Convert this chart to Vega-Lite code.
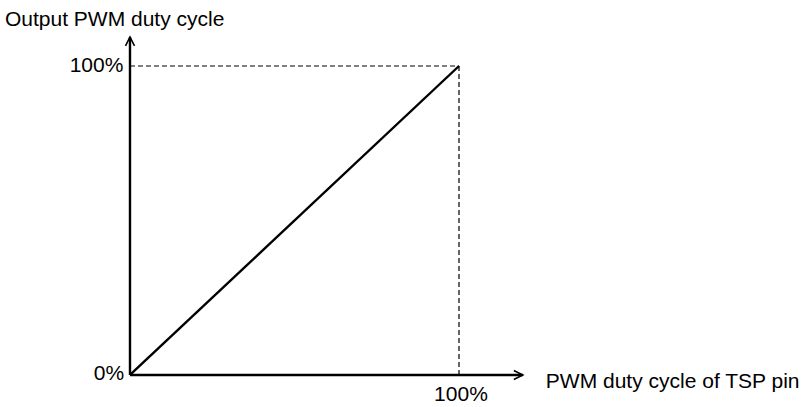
{
  "$schema": "https://vega.github.io/schema/vega-lite/v6.json",
  "width": 806,
  "height": 407,
  "autosize": {"type": "none"},
  "padding": 0,
  "background": "white",
  "config": {"view": {"stroke": null}},
  "datasets": {
    "diag": [{"x": 0, "y": 0}, {"x": 100, "y": 100}],
    "dashes": [
      {"x": 0, "y": 100, "x2": 100, "y2": 100},
      {"x": 100, "y": 100, "x2": 100, "y2": 0}
    ],
    "axes": [
      {"x": 0, "y": 0, "x2": 119.4, "y2": 0},
      {"x": 0, "y": 0, "x2": 0, "y2": 109.4}
    ],
    "heads": [
      {"dir": "right", "x": 119.4, "y": 0},
      {"dir": "up", "x": 0, "y": 109.4}
    ],
    "labels": [
      {"pos": "left", "label": "Output PWM duty cycle", "x": -38.0, "y": 115.0},
      {"pos": "left", "label": "PWM duty cycle of TSP pin", "x": 126.4, "y": -2.4},
      {"pos": "right", "label": "100%", "x": -2.0, "y": 100},
      {"pos": "right", "label": "0%", "x": -1.8, "y": 0.4},
      {"pos": "center", "label": "100%", "x": 100.6, "y": -6.5}
    ]
  },
  "encoding": {
    "x": {"field": "x", "type": "quantitative", "scale": {"domain": [-39.51, 205.47], "nice": false, "zero": false}, "axis": null},
    "y": {"field": "y", "type": "quantitative", "scale": {"domain": [-10.36, 121.36], "nice": false, "zero": false}, "axis": null}
  },
  "layer": [
    {
      "data": {"name": "dashes"},
      "mark": {"type": "rule", "color": "black", "strokeWidth": 1.2, "strokeDash": [5, 3]},
      "encoding": {"x2": {"field": "x2"}, "y2": {"field": "y2"}}
    },
    {
      "data": {"name": "diag"},
      "mark": {"type": "line", "color": "black", "strokeWidth": 2.4},
      "encoding": {}
    },
    {
      "data": {"name": "axes"},
      "mark": {"type": "rule", "color": "black", "strokeWidth": 2.4},
      "encoding": {"x2": {"field": "x2"}, "y2": {"field": "y2"}}
    },
    {
      "data": {"name": "heads"},
      "transform": [{"filter": "datum.dir == 'right'"}],
      "mark": {"type": "point", "shape": "M-1,-0.5L0,0L-1,0.5", "filled": false, "stroke": "black", "strokeWidth": 1.6, "size": 324, "opacity": 1}
    },
    {
      "data": {"name": "heads"},
      "transform": [{"filter": "datum.dir == 'up'"}],
      "mark": {"type": "point", "shape": "M-1,-0.5L0,0L-1,0.5", "angle": 270, "filled": false, "stroke": "black", "strokeWidth": 1.6, "size": 324, "opacity": 1}
    },
    {
      "data": {"name": "labels"},
      "transform": [{"filter": "datum.pos == 'left'"}],
      "mark": {"type": "text", "align": "left", "baseline": "middle", "font": "Liberation Sans", "fontSize": 21, "color": "black"},
      "encoding": {"text": {"field": "label"}}
    },
    {
      "data": {"name": "labels"},
      "transform": [{"filter": "datum.pos == 'right'"}],
      "mark": {"type": "text", "align": "right", "baseline": "middle", "font": "Liberation Sans", "fontSize": 21, "color": "black"},
      "encoding": {"text": {"field": "label"}}
    },
    {
      "data": {"name": "labels"},
      "transform": [{"filter": "datum.pos == 'center'"}],
      "mark": {"type": "text", "align": "center", "baseline": "middle", "font": "Liberation Sans", "fontSize": 21, "color": "black"},
      "encoding": {"text": {"field": "label"}}
    }
  ]
}
